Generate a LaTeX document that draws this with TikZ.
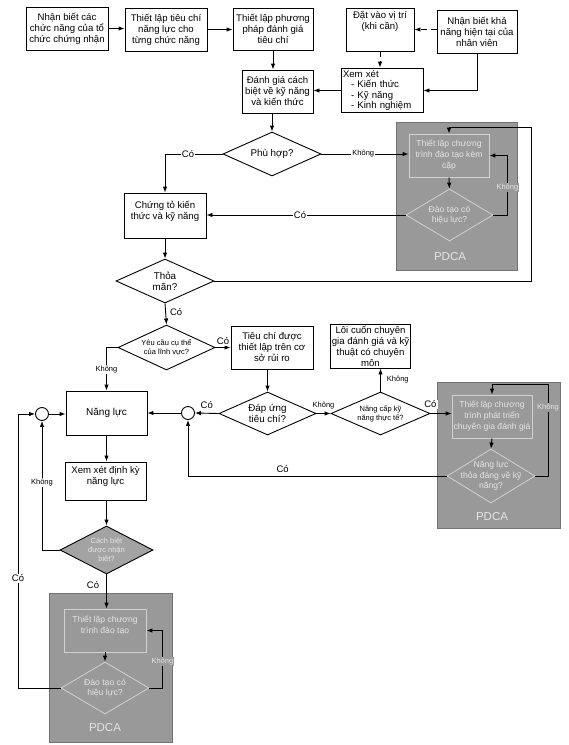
\documentclass[tikz,border=0pt]{standalone}
\usepackage{fontspec}
\setmainfont{Liberation Sans}
\usetikzlibrary{shapes.geometric,arrows.meta}
\definecolor{pdcagray}{gray}{0.6}
\definecolor{pdcaline}{gray}{0.82}
\definecolor{pdcaedge}{gray}{0.45}
\definecolor{pdcatext}{gray}{0.9}
\definecolor{cachgray}{gray}{0.64}
\tikzset{
 box/.style={draw, line width=0.9pt, align=center, inner sep=1pt, font=\fontsize{9.6pt}{11pt}\selectfont},
 dia/.style={diamond, draw, line width=0.9pt, inner sep=0pt},
 dtext/.style={align=center, font=\fontsize{9.8pt}{11pt}\selectfont},
 dsmall/.style={align=center, font=\fontsize{7.5pt}{9pt}\selectfont},
 arr/.style={-{Latex[length=6pt,width=4.5pt]}, line width=0.9pt},
 lab/.style={fill=white, inner sep=1pt, font=\fontsize{9.5pt}{10pt}\selectfont},
 klab/.style={fill=white, inner sep=1pt, font=\fontsize{7.5pt}{8pt}\selectfont},
 klabg/.style={fill=pdcagray, inner sep=1pt, text=pdcatext, font=\fontsize{7.5pt}{8pt}\selectfont},
 pdcabg/.style={fill=pdcagray, draw=pdcaedge, line width=0.6pt, inner sep=0pt},
 pbox/.style={draw=pdcaline, line width=0.8pt, align=center, inner sep=1pt, text=pdcatext, font=\fontsize{8.6pt}{11pt}\selectfont},
 pdia/.style={diamond, draw=pdcaline, line width=0.8pt, inner sep=0pt},
 ptext/.style={align=center, text=pdcatext, font=\fontsize{8.6pt}{10.5pt}\selectfont},
 pdcalabel/.style={text=pdcatext, font=\fontsize{11.5pt}{12pt}\selectfont},
 circ/.style={circle, draw, line width=0.9pt, minimum size=13pt, inner sep=0pt},
}
\begin{document}
\begin{tikzpicture}[x=1pt,y=-1pt]
\useasboundingbox (0,0) rectangle (569,745);
% PDCA backgrounds
\node[pdcabg, minimum width=121, minimum height=148] (G1) at (456.5,196) {};
\node[pdcabg, minimum width=123, minimum height=146] (G2) at (498.5,455) {};
\node[pdcabg, minimum width=123, minimum height=149] (G3) at (110.5,667.5) {};
\node[pdcalabel] (PL1) at (450,257) {PDCA};
\node[pdcalabel] (PL2) at (492,517) {PDCA};
\node[pdcalabel] (PL3) at (105,728) {PDCA};

% top row
\node[box, minimum width=82, minimum height=43] (A) at (67,28.5) {Nhận biết các\\chức năng của tổ\\chức chứng nhận};
\node[box, minimum width=82, minimum height=43] (B) at (166,29.5) {Thiết lập tiêu chí\\năng lực cho\\từng chức năng};
\node[box, minimum width=80, minimum height=42] (C) at (273,29) {Thiết lập phương\\pháp đánh giá\\tiêu chí};
\node[box, minimum width=68, minimum height=43] (D) at (380,29.5) {Đặt vào vị trí\\(khi cần)\\[7pt]\mbox{}};
\node[box, minimum width=80, minimum height=43] (E) at (477,31.5) {Nhận biết khả\\năng hiện tại của\\nhân viên};
\node[box, minimum width=82, minimum height=43, text width=78pt, inner sep=2pt, align=left, font=\fontsize{9.6pt}{10.6pt}\selectfont] (F) at (382,90.5) {Xem xét\\\hspace*{8pt}- Kiến thức\\\hspace*{8pt}- Kỹ năng\\\hspace*{8pt}- Kinh nghiệm};
\node[box, minimum width=71, minimum height=43] (G) at (277.5,91.5) {Đánh giá cách\\biệt về kỹ năng\\và kiến thức};

\node[dia, minimum width=98, minimum height=44, label={[dtext]center:Phù hợp?}] (P) at (272,154) {};
\node[box, minimum width=82, minimum height=45] (H) at (165,215.5) {Chứng tỏ kiến\\thức và kỹ năng\\\mbox{}};
\node[dia, minimum width=98, minimum height=44, label={[dtext]center:{Thỏa\\mãn?}}] (T) at (165,281) {};
\node[dia, minimum width=97, minimum height=45, label={[dsmall]center:{Yêu cầu cụ thể\\của lĩnh vực?}}] (Y) at (166.5,347.5) {};
\node[box, minimum width=82, minimum height=43] (I) at (272,347.5) {Tiêu chí được\\thiết lập trên cơ\\sở rủi ro};
\node[box, minimum width=73, minimum height=44] (M) at (370.5,346) {Lôi cuốn chuyên\\gia đánh giá và kỹ\\thuật có chuyên\\môn};
\node[box, minimum width=81, minimum height=44, font=\fontsize{10pt}{11pt}\selectfont] (J) at (106.5,413) {Năng lực};
\node[dia, minimum width=97, minimum height=43, label={[dtext]center:{Đáp ứng\\tiêu chí?}}] (K) at (267.5,413.5) {};
\node[dia, minimum width=99, minimum height=43, label={[dsmall]center:{Nâng cấp kỹ\\năng thực tế?}}] (L) at (380.5,413.5) {};
\node[circ] (c1) at (42,414) {};
\node[circ] (c2) at (188,413) {};
\node[box, minimum width=81, minimum height=38] (N) at (105.5,481) {Xem xét định kỳ\\năng lực\\\mbox{}};
\node[dia, fill=cachgray, minimum width=93, minimum height=48, label={[dsmall, text=pdcatext]center:{Cách biệt\\được nhận\\biết?}}] (O) at (106.5,550) {};

% PDCA inner
\node[pbox, minimum width=80, minimum height=43] (R1) at (449,155.5) {Thiết lập chương\\trình đào tạo kèm\\cặp};
\node[pdia, minimum width=87, minimum height=52, label={[ptext]center:{Đào tạo có\\hiệu lực?}}] (Q1) at (449.5,215) {};
\node[pbox, minimum width=80, minimum height=43] (R2) at (492,416.5) {Thiết lập chương\\trình phát triển\\chuyên gia đánh giá};
\node[pdia, minimum width=88, minimum height=54, label={[ptext]center:{Năng lực\\thỏa đáng về kỹ\\năng?}}] (Q2) at (491,476) {};
\node[pbox, minimum width=82, minimum height=43] (R3) at (105,630.5) {Thiết lập chương\\trình đào tạo\\\mbox{}};
\node[pdia, minimum width=88, minimum height=52, label={[ptext]center:{Đào tạo có\\hiệu lực?}}] (Q3) at (105,688) {};

% connectors
\draw[arr] (A.east) -- (A.east -| B.west);
\draw[arr] (B.east) -- (B.east -| C.west);
\draw[arr, dash pattern=on 6pt off 4pt] (E.west |- D.east) -- (D.east);
\draw[arr, dash pattern=on 6pt off 4pt] (D.south) -- (D.south |- F.north);
\draw[arr] (E.south) |- (F.east);
\draw[arr] (F.west) -- (F.west -| G.east);
\draw[arr] (C.south) -- (C.south |- G.north);
\draw[arr] (P.north |- G.south) -- (P.north);
\draw[arr] (P.west) -| node[lab, pos=0.3]{Có} (H.north);
\draw[arr] (P.east) -- node[klab, pos=0.48]{Không} (P.east -| R1.west);
\draw[arr] (R1.south) -- (Q1.north);
\draw[arr] (Q1.east) -- ++(14,0) |- node[klabg, pos=0.23]{Không} (R1.east);
\draw[arr] (Q1.west) -- node[lab, pos=0.53]{Có} (Q1.west -| H.east);
\draw[arr] (H.south) -- (T.north);
\coordinate (k1) at (531,127);
\draw[arr] (T.east) -| (k1) -| (R1.north);
\draw[arr] (T.south) -- node[lab, right=3pt, pos=0.4]{Có} (Y.north);
\draw[arr] (Y.east) -- node[lab, above=1pt]{Có} (Y.east -| I.west);
\draw[arr] (Y.west) -| node[klab, pos=0.76]{Không} (J.north);
\draw[arr] (K.north |- I.south) -- (K.north);
\draw[arr] (K.east) -- node[klab, above=3pt]{Không} (L.west);
\draw[arr] (L.north) -- node[klab, right=5pt]{Không} (L.north |- M.south);
\draw[arr] (L.east) -- node[lab, above=4pt, pos=0]{Có} (L.east -| R2.west);
\draw[arr] (R2.south) -- (Q2.north);
\coordinate (k2) at (548,384);
\draw[arr] (Q2.east) -| node[klabg, pos=0.87]{Không} (k2) -| (R2.north);
\draw[arr] (Q2.west) -| node[lab, above=2pt, pos=0.317]{Có} (c2.south);
\draw[arr] (K.west) -- node[lab, above=3pt]{Có} (c2.east);
\draw[arr] (c2.west) -- (c2.west -| J.east);
\draw[arr] (c1.east) -- (c1.east -| J.west);
\draw[arr] (J.south) -- (J.south |- N.north);
\draw[arr] (O.north |- N.south) -- (O.north);
\draw[arr] (O.west) -| node[klab, pos=0.76]{Không} (c1.south);
\draw[arr] (O.south) -- node[lab, left=6pt, pos=0.3]{Có} (O.south |- R3.north);
\draw[arr] (R3.south) -- (Q3.north);
\draw[arr] (Q3.east) -- ++(13,0) |- node[klabg, pos=0.23]{Không} (R3.east);
\coordinate (k3) at (18,414);
\draw[arr] (Q3.west) -| node[lab, pos=0.7]{Có} (k3) -- (c1.west);
\end{tikzpicture}
\end{document}
